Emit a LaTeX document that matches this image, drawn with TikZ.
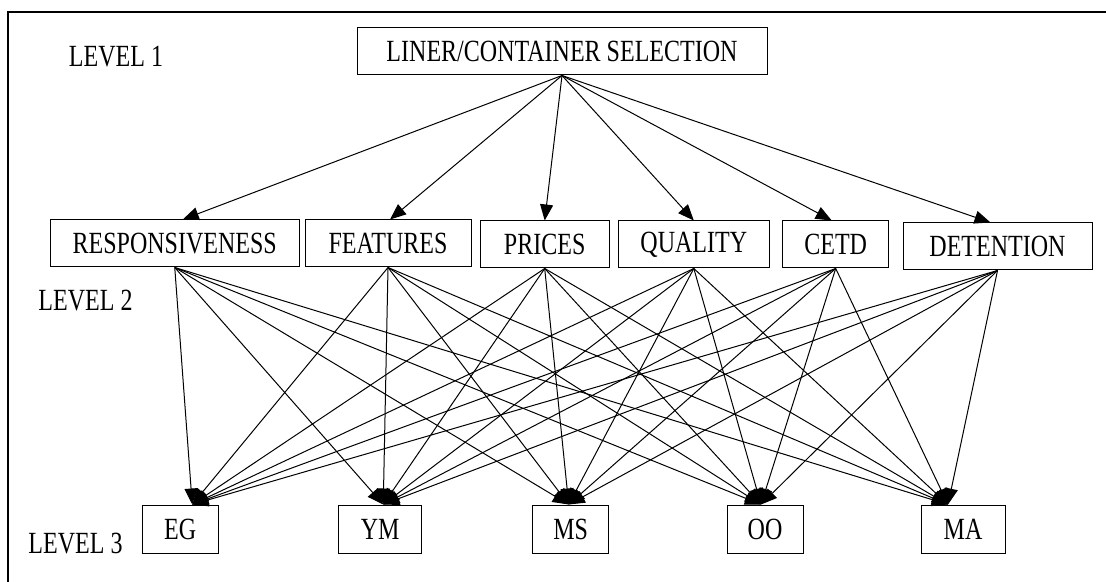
\documentclass[tikz,border=0pt]{standalone}
\usepackage{fontspec}
\setmainfont{Liberation Serif}[FakeStretch=0.78]
\usetikzlibrary{arrows.meta, positioning}

\tikzset{
  box/.style={draw, line width=0.5pt, minimum height=23.5pt, inner sep=0pt},
  lbox/.style={box, minimum height=24pt},
  link/.style={->, line width=0.5pt},
}

\begin{document}
\begin{tikzpicture}[x=0.5pt, y=-0.5pt, >={Triangle[length=8pt,width=6.5pt]}, font=\fontsize{15.4}{18}\selectfont]
		\useasboundingbox (0,0) rectangle (1106,582);
		
		% --- Moldura
		\draw[line width=0.8pt] (8,582) -- (8,12) -- (1106,12);
		
		% --- Níveis
		\node (lv1) at (116,56.5) {LEVEL 1};
		\node (lv2) at (85.5,301) {LEVEL 2};
		\node (lv3) at (75.5,544) {LEVEL 3};
		
		% Objetivo
		\node[box, minimum width=205pt] (LCS) at (562,51.5) {LINER/CONTAINER SELECTION};
		
		% Critérios
		\node[box, minimum width=124.75pt] (RESP) at (174.75,243.5) {RESPONSIVENESS};
		\node[box, minimum width=83pt]     (FEAT) at (388,243.5) {FEATURES};
		\node[box, minimum width=64.5pt]   (PRIC) at (544.7,244.5) {PRICES};
		\node[box, minimum width=75.8pt]   (QUAL) at (693.8,244.5) {QUALITY};
		\node[box, minimum width=53pt]     (CETD) at (835.7,244.5) {CETD};
		\node[box, minimum width=94.5pt]   (DETN) at (997.5,246.5) {DETENTION};
		
		% Alternativas
		\node[lbox, minimum width=37.75pt] (EG) at (180.25,529) {EG};
		\node[lbox, minimum width=41.6pt]  (YM) at (380.25,529) {YM};
		\node[lbox, minimum width=38pt]    (MS) at (570.7,529) {MS};
		\node[lbox, minimum width=38pt]    (OO) at (765,529) {OO};
		\node[lbox, minimum width=42pt]    (MA) at (963,529) {MA};
		
		% Pontas das setas
		\coordinate (tRESP) at ([xshift=4pt]RESP.north);
		\coordinate (tFEAT) at ([xshift=1pt]FEAT.north);
		\coordinate (tPRIC) at (PRIC.north);
		\coordinate (tQUAL) at (QUAL.north);
		\coordinate (tCETD) at ([xshift=-2pt]CETD.north);
		\coordinate (tDETN) at ([xshift=-3.5pt]DETN.north);
		\coordinate (tEG) at ([xshift=6pt]EG.north);
		\coordinate (tYM) at ([xshift=1.5pt]YM.north);
		\coordinate (tMS) at ([xshift=-1pt]MS.north);
		\coordinate (tOO) at ([xshift=-2pt]OO.north);
		\coordinate (tMA) at ([xshift=-7.5pt]MA.north);
		
		% --- Nível 1 -> Nível 2
		\draw[link] (LCS.south) -- (tRESP);
		\draw[link] (LCS.south) -- (tFEAT);
		\draw[link] (LCS.south) -- (tPRIC);
		\draw[link] (LCS.south) -- (tQUAL);
		\draw[link] (LCS.south) -- (tCETD);
		\draw[link] (LCS.south) -- (tDETN);
		
		% --- Nível 2 -> Nível 3
		\draw[link] (RESP.south) -- (tEG);
		\draw[link] (RESP.south) -- (tYM);
		\draw[link] (RESP.south) -- (tMS);
		\draw[link] (RESP.south) -- (tOO);
		\draw[link] (RESP.south) -- (tMA);
		\draw[link] (FEAT.south) -- (tEG);
		\draw[link] (FEAT.south) -- (tYM);
		\draw[link] (FEAT.south) -- (tMS);
		\draw[link] (FEAT.south) -- (tOO);
		\draw[link] (FEAT.south) -- (tMA);
		\draw[link] (PRIC.south) -- (tEG);
		\draw[link] (PRIC.south) -- (tYM);
		\draw[link] (PRIC.south) -- (tMS);
		\draw[link] (PRIC.south) -- (tOO);
		\draw[link] (PRIC.south) -- (tMA);
		\draw[link] (QUAL.south) -- (tEG);
		\draw[link] (QUAL.south) -- (tYM);
		\draw[link] (QUAL.south) -- (tMS);
		\draw[link] (QUAL.south) -- (tOO);
		\draw[link] (QUAL.south) -- (tMA);
		\draw[link] (CETD.south) -- (tEG);
		\draw[link] (CETD.south) -- (tYM);
		\draw[link] (CETD.south) -- (tMS);
		\draw[link] (CETD.south) -- (tOO);
		\draw[link] (CETD.south) -- (tMA);
		\draw[link] (DETN.south) -- (tEG);
		\draw[link] (DETN.south) -- (tYM);
		\draw[link] (DETN.south) -- (tMS);
		\draw[link] (DETN.south) -- (tOO);
		\draw[link] (DETN.south) -- (tMA);
		
	\end{tikzpicture}
\end{document}
